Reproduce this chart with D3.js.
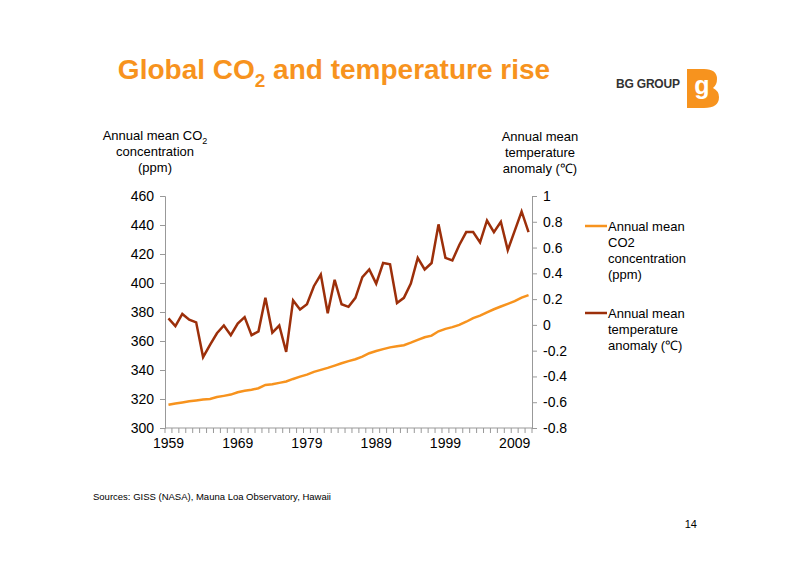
<!DOCTYPE html>
<html>
<head>
<meta charset="utf-8">
<script src="https://cdn.jsdelivr.net/npm/d3@7"></script>
<style>
  body { margin: 0; background: #fff; }
  text { font-family: "Liberation Sans", Arial, sans-serif; }
</style>
</head>
<body>
<div id="chart"></div>
<script>
var years = d3.range(1959, 2012);
var co2 = [315.97, 316.91, 317.64, 318.45, 318.99, 319.62, 320.04, 321.38, 322.16, 323.04,
  324.62, 325.68, 326.32, 327.45, 329.68, 330.18, 331.11, 332.04, 333.83, 335.40,
  336.84, 338.75, 340.11, 341.45, 343.05, 344.65, 346.12, 347.42, 349.19, 351.57,
  353.12, 354.39, 355.61, 356.45, 357.10, 358.83, 360.82, 362.61, 363.73, 366.70,
  368.38, 369.55, 371.14, 373.28, 375.80, 377.52, 379.80, 381.90, 383.79, 385.60,
  387.43, 389.90, 391.65];
var temp = [0.05, -0.01, 0.085, 0.04, 0.02, -0.25, -0.155, -0.065, -0.005, -0.08,
  0.01, 0.06, -0.08, -0.05, 0.21, -0.06, -0.005, -0.21, 0.19, 0.12,
  0.16, 0.30, 0.39, 0.09, 0.35, 0.16, 0.14, 0.21, 0.37, 0.43,
  0.32, 0.48, 0.47, 0.17, 0.21, 0.32, 0.52, 0.43, 0.48, 0.78,
  0.52, 0.50, 0.62, 0.72, 0.72, 0.64, 0.81, 0.72, 0.80, 0.58,
  0.73, 0.88, 0.72];
var leftTicks = [300, 320, 340, 360, 380, 400, 420, 440, 460];
var rightTicks = [-0.8, -0.6, -0.4, -0.2, 0, 0.2, 0.4, 0.6, 0.8, 1];
var yearLabels = [1959, 1969, 1979, 1989, 1999, 2009];

var W = 800, H = 566;
var ORANGE = '#f7931e', BROWN = '#9c2f0a', GREY = '#999';
var svg = d3.select('#chart').append('svg').attr('width', W).attr('height', H);

var x = d3.scaleBand().domain(years).range([165, 532]);
var yL = d3.scaleLinear().domain([300, 460]).range([428, 196]);
var yR = d3.scaleLinear().domain([-0.8, 1]).range([428, 196]);
var cx = function (yr) { return x(yr) + x.bandwidth() / 2; };

// title
var title = svg.append('text').attr('x', 334).attr('y', 79).attr('text-anchor', 'middle')
  .attr('fill', ORANGE).attr('font-size', 28).attr('font-weight', 'bold');
title.append('tspan').text('Global CO');
title.append('tspan').attr('font-size', 19).attr('dy', 8).text('2');
title.append('tspan').attr('dy', -8).text(' and temperature rise');

// logo
svg.append('text').attr('x', 680).attr('y', 88).attr('text-anchor', 'end').attr('font-size', 12)
  .attr('font-weight', 'bold').attr('fill', '#333').attr('font-family', 'Open Sans')
  .attr('textLength', 64).text('BG GROUP');
svg.append('path').attr('d', 'M687,69 h17 q13,0 13,10 q0,6 -4,9 q6,3 6,9 q0,11 -15,11 h-17 z').attr('fill', ORANGE);
svg.append('text').attr('x', 702).attr('y', 94).attr('text-anchor', 'middle').attr('font-size', 25)
  .attr('font-weight', 'bold').attr('fill', '#fff').text('g');

// axis titles
var lt = svg.append('text').attr('text-anchor', 'middle').attr('font-size', 13).attr('fill', '#000');
lt.append('tspan').attr('x', 155).attr('y', 140).text('Annual mean CO');
lt.append('tspan').attr('font-size', 9).attr('dy', 4).text('2');
lt.append('tspan').attr('x', 155).attr('y', 156).text('concentration');
lt.append('tspan').attr('x', 155).attr('y', 172).text('(ppm)');
var rt = svg.append('text').attr('text-anchor', 'middle').attr('font-size', 13);
['Annual mean', 'temperature', 'anomaly (\u2103)'].forEach(function (s, i) {
  rt.append('tspan').attr('x', 540).attr('y', 141 + i * 16).text(s);
});

// axes
var gL = svg.append('g').attr('transform', 'translate(165,0)')
  .call(d3.axisLeft(yL).tickValues(leftTicks).tickSize(5).tickPadding(6));
var gR = svg.append('g').attr('transform', 'translate(532,0)')
  .call(d3.axisRight(yR).tickValues(rightTicks).tickSize(5).tickPadding(6)
    .tickFormat(function (d) { return String(+d.toFixed(1)); }));
var gB = svg.append('g').attr('transform', 'translate(0,428)')
  .call(d3.axisBottom(x).tickValues(yearLabels).tickSize(0).tickPadding(10));
[gL, gR, gB].forEach(function (g) {
  g.selectAll('path.domain').attr('stroke', GREY);
  g.selectAll('line').attr('stroke', GREY);
  g.selectAll('text').attr('font-size', 14).attr('fill', '#000').attr('font-family', '"Liberation Sans", Arial, sans-serif');
});
gB.select('path.domain').attr('d', 'M165,0H532');
svg.append('g').selectAll('line').data(years.concat([2012])).join('line')
  .attr('x1', function (d) { return d === 2012 ? 532 : x(d); })
  .attr('x2', function (d) { return d === 2012 ? 532 : x(d); })
  .attr('y1', 428).attr('y2', 433).attr('stroke', GREY);

// lines
svg.append('path').datum(co2).attr('fill', 'none').attr('stroke', ORANGE).attr('stroke-width', 2.5)
  .attr('d', d3.line().x(function (d, i) { return cx(years[i]); }).y(function (d) { return yL(d); }));
svg.append('path').datum(temp).attr('fill', 'none').attr('stroke', BROWN).attr('stroke-width', 2.5)
  .attr('d', d3.line().x(function (d, i) { return cx(years[i]); }).y(function (d) { return yR(d); }));

// legend
var legend = [
  { c: ORANGE, y: 226, lines: ['Annual mean', 'CO2', 'concentration', '(ppm)'] },
  { c: BROWN, y: 313, lines: ['Annual mean', 'temperature', 'anomaly (\u2103)'] }
];
legend.forEach(function (l) {
  svg.append('line').attr('x1', 585).attr('x2', 607).attr('y1', l.y).attr('y2', l.y)
    .attr('stroke', l.c).attr('stroke-width', 2.5);
  var t = svg.append('text').attr('font-size', 13);
  l.lines.forEach(function (s, i) {
    t.append('tspan').attr('x', 608).attr('y', l.y + 5 + i * 16).text(s);
  });
});

svg.append('text').attr('x', 93).attr('y', 500).attr('font-size', 9.5).text('Sources: GISS (NASA), Mauna Loa Observatory, Hawaii');
svg.append('text').attr('x', 697).attr('y', 528).attr('text-anchor', 'end').attr('font-size', 11).text('14');
</script>
</body>
</html>
